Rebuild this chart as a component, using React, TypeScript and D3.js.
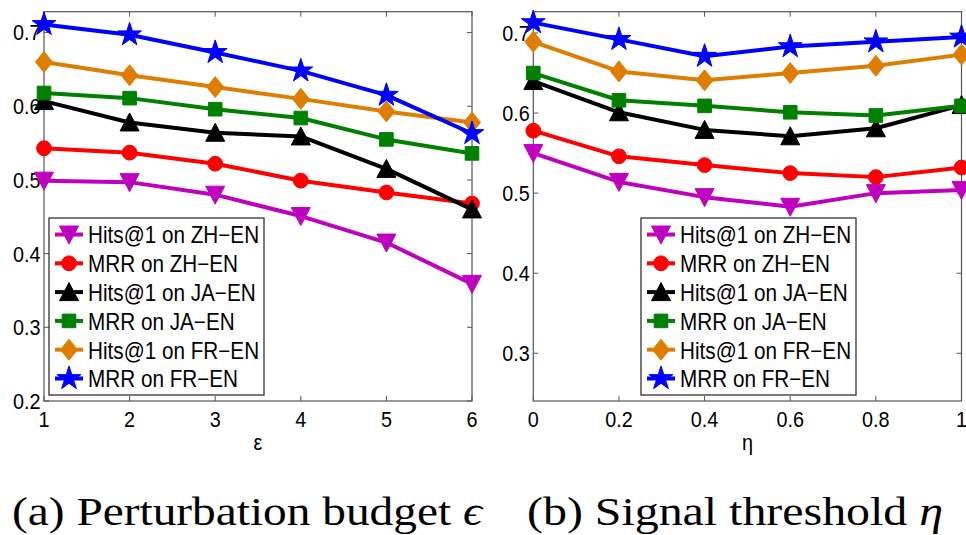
import React from 'react';
import * as d3 from 'd3';

const W = 966, H = 535;

// x values / ticks
const epsValues = [1, 2, 3, 4, 5, 6];
const etaValues = [0, 0.2, 0.4, 0.6, 0.8, 1];
const epsYTicks = [0.2, 0.3, 0.4, 0.5, 0.6, 0.7];
const etaYTicks = [0.3, 0.4, 0.5, 0.6, 0.7];

const seriesLabels = [
  'Hits@1 on ZH−EN',
  'MRR on ZH−EN',
  'Hits@1 on JA−EN',
  'MRR on JA−EN',
  'Hits@1 on FR−EN',
  'MRR on FR−EN',
];
const seriesColors = ['#bf00bf', '#ff0000', '#000000', '#008000', '#de7d00', '#0000ff'];
const seriesMarkers = ['down', 'circle', 'up', 'square', 'diamond', 'star'];

// (a) perturbation budget
const epsHitsZH = [0.499, 0.497, 0.480, 0.451, 0.415, 0.359];
const epsMrrZH = [0.543, 0.537, 0.522, 0.499, 0.483, 0.468];
const epsHitsJA = [0.607, 0.578, 0.564, 0.559, 0.515, 0.460];
const epsMrrJA = [0.618, 0.611, 0.596, 0.584, 0.555, 0.536];
const epsHitsFR = [0.660, 0.642, 0.626, 0.610, 0.593, 0.578];
const epsMrrFR = [0.711, 0.697, 0.673, 0.648, 0.615, 0.563];

// (b) signal threshold
const etaHitsZH = [0.550, 0.514, 0.495, 0.483, 0.500, 0.504];
const etaMrrZH = [0.578, 0.546, 0.535, 0.525, 0.520, 0.532];
const etaHitsJA = [0.640, 0.601, 0.579, 0.571, 0.581, 0.610];
const etaMrrJA = [0.650, 0.616, 0.609, 0.601, 0.597, 0.609];
const etaHitsFR = [0.689, 0.652, 0.641, 0.650, 0.659, 0.673];
const etaMrrFR = [0.713, 0.692, 0.671, 0.683, 0.689, 0.695];

const FONT = "'Liberation Sans', sans-serif";
const SERIF = "'Liberation Serif', serif";
const AXIS = '#555';

function starPath(R: number) {
  const r = R * 0.382;
  const pts: [number, number][] = [];
  for (let i = 0; i < 10; i++) {
    const a = -Math.PI / 2 + (i * Math.PI) / 5;
    const rad = i % 2 === 0 ? R : r;
    pts.push([rad * Math.cos(a), rad * Math.sin(a)]);
  }
  return 'M' + pts.map(p => p[0].toFixed(2) + ',' + p[1].toFixed(2)).join('L') + 'Z';
}

function markerPath(kind: string): string {
  switch (kind) {
    case 'down': return 'M-9.5,-8.5L9.5,-8.5L0,9.5Z';
    case 'up': return 'M-9.5,8.5L9.5,8.5L0,-9.5Z';
    case 'square': return 'M-6.8,-6.8h13.6v13.6h-13.6Z';
    case 'diamond': return 'M0,-10.5L8.5,0L0,10.5L-8.5,0Z';
    case 'circle': return d3.symbol(d3.symbolCircle, Math.PI * 7.4 * 7.4)() as string;
    default: return starPath(12.5);
  }
}

// horizontally squeezed sans text, like the original figure
const SText: React.FC<{ x: number; y: number; anchor?: string; size?: number; children: React.ReactNode }> =
  ({ x, y, anchor = 'start', size = 22, children }) => (
    <text transform={`translate(${x},${y}) scale(0.9,1)`} textAnchor={anchor}
      style={{ fontFamily: FONT, fontSize: size }} dominantBaseline="central" fill="#000">{children}</text>
  );

interface PanelProps {
  left: number; right: number; top: number; bottom: number;
  xs: number[]; xDomain: [number, number]; yDomain: [number, number];
  yTicks: number[]; series: number[][]; xLabel: string; legendX: number;
}

const Panel: React.FC<PanelProps> = ({ left, right, top, bottom, xs, xDomain, yDomain, yTicks, series, xLabel, legendX }) => {
  const x = d3.scaleLinear().domain(xDomain).range([left, right]);
  const y = d3.scaleLinear().domain(yDomain).range([bottom, top]);
  const fmt = d3.format('~g');
  const line = d3.line<number>().x((_, i) => x(xs[i])).y(d => y(d));
  const tick = 5;
  const legendTop = 218, legendBottom = 395, legendW = 215;
  const rowY = (i: number) => 234.5 + i * 28.8;

  return (
    <g>
      <rect x={left} y={top} width={right - left} height={bottom - top} fill="#fff" stroke={AXIS} strokeWidth={1.2} />
      {xs.map(v => (
        <g key={'xt' + v}>
          <line x1={x(v)} x2={x(v)} y1={bottom} y2={bottom - tick} stroke={AXIS} />
          <line x1={x(v)} x2={x(v)} y1={top} y2={top + tick} stroke={AXIS} />
          <SText x={x(v)} y={419} anchor="middle">{fmt(v)}</SText>
        </g>
      ))}
      {yTicks.map(v => (
        <g key={'yt' + v}>
          <line x1={left} x2={left + tick} y1={y(v)} y2={y(v)} stroke={AXIS} />
          <line x1={right} x2={right - tick} y1={y(v)} y2={y(v)} stroke={AXIS} />
          <SText x={left - 3.5} y={y(v)} anchor="end">{v.toFixed(1)}</SText>
        </g>
      ))}
      <SText x={(left + right) / 2} y={442} anchor="middle">{xLabel}</SText>

      {series.map((vals, s) => (
        <g key={'s' + s}>
          <path d={line(vals) as string} fill="none" stroke={seriesColors[s]} strokeWidth={4} strokeLinejoin="round" />
          {vals.map((v, i) => (
            <path key={i} d={markerPath(seriesMarkers[s])} transform={`translate(${x(xs[i])},${y(v)})`}
              fill={seriesColors[s]} stroke={seriesColors[s]} strokeWidth={1} />
          ))}
        </g>
      ))}

      <rect x={legendX} y={legendTop} width={legendW} height={legendBottom - legendTop} fill="#fff" stroke="#333" strokeWidth={1.3} />
      {seriesLabels.map((lab, i) => (
        <g key={'lg' + i}>
          <line x1={legendX + 6} x2={legendX + 34} y1={rowY(i)} y2={rowY(i)} stroke={seriesColors[i]} strokeWidth={4} />
          <path d={markerPath(seriesMarkers[i])} transform={`translate(${legendX + 20},${rowY(i)})`} fill={seriesColors[i]} stroke={seriesColors[i]} />
          <SText x={legendX + 39} y={rowY(i) + 1} size={23}>{lab}</SText>
        </g>
      ))}
    </g>
  );
};

export default function App() {
  return (
    <svg width={W} height={H} viewBox={`0 0 ${W} ${H}`}
      style={{ position: 'absolute', left: 0, top: 0, background: '#fff' }}>
      <Panel left={44} right={472} top={11.7} bottom={401} xs={epsValues} xDomain={[1, 6]}
        yDomain={[0.2, 0.7283]} yTicks={epsYTicks}
        series={[epsHitsZH, epsMrrZH, epsHitsJA, epsMrrJA, epsHitsFR, epsMrrFR]}
        xLabel="ε" legendX={49} />
      <Panel left={533.3} right={961.5} top={11.7} bottom={401} xs={etaValues} xDomain={[0, 1]}
        yDomain={[0.2404, 0.7266]} yTicks={etaYTicks}
        series={[etaHitsZH, etaMrrZH, etaHitsJA, etaMrrJA, etaHitsFR, etaMrrFR]}
        xLabel="η" legendX={641} />

      <text x={12} y={525} style={{ fontFamily: SERIF, fontSize: 40 }} textLength={470} lengthAdjust="spacingAndGlyphs">
        (a)  Perturbation budget <tspan fontStyle="italic">ϵ</tspan>
      </text>
      <text x={527} y={525} style={{ fontFamily: SERIF, fontSize: 40 }} textLength={416} lengthAdjust="spacingAndGlyphs">
        (b)  Signal threshold <tspan fontStyle="italic">η</tspan>
      </text>
    </svg>
  );
}
